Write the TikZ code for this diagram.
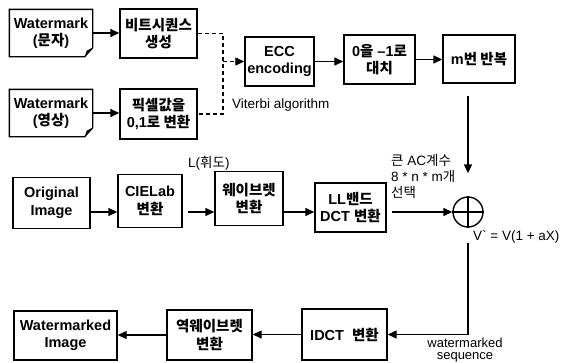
\documentclass[tikz,border=0pt]{standalone}
\usepackage{fontspec}
\setmainfont{Liberation Sans}
\newfontfamily\kr{Noto Sans CJK KR}
\newcommand{\kor}[1]{{\kr #1}}
\usetikzlibrary{arrows.meta}
\begin{document}
\begin{tikzpicture}[x=1pt,y=-1pt,
 box/.style={draw, line width=1.4pt, inner sep=0pt, align=center, font=\fontsize{14.5}{17.5}\selectfont\bfseries},
 lbl/.style={inner sep=0pt, font=\fontsize{13.5}{16}\selectfont},
 arr/.style={line width=1.4pt, -{Triangle[length=9pt,width=8pt]}},
 dsh/.style={line width=1.3pt, dash pattern=on 4pt off 3pt}]
\useasboundingbox (0,0) rectangle (573,362);
\fill[white] (0,0) rectangle (573,362);

% top row
\node[box, draw=none, minimum width=82pt, minimum height=46pt] (wm1) at (51,33) {Watermark\\(\kor{문자})};
\node[box, minimum width=77pt, minimum height=49pt] (bit) at (158.5,33.5) {\kor{비트시퀀스}\\\kor{생성}};
\node[box, draw=none, minimum width=82pt, minimum height=46pt] (wm2) at (51,113) {Watermark\\(\kor{영상})};
\node[box, minimum width=77pt, minimum height=50pt] (pix) at (158.5,114) {\kor{픽셀값을}\\0,1\kor{로 변환}};
\node[box, minimum width=69pt, minimum height=49pt] (ecc) at (279.5,61.5) {ECC\\encoding};
\node[lbl, anchor=base west] (vit) at (232,108) {Viterbi algorithm};
\node[box, minimum width=71pt, minimum height=49pt] (neg) at (379.5,59.5) {0\kor{을} –1\kor{로}\\\kor{대치}};
\node[box, minimum width=72pt, minimum height=48pt] (rep) at (479,59) {m\kor{번 반복}};

% document shapes
\foreach \n in {wm1,wm2}{
  \draw[line width=1.4pt] (\n.north west) -- (\n.north east) -- ([yshift=9pt]\n.south east)
     -- ([xshift=-8pt]\n.south east) -- (\n.south west) -- cycle;
  \fill ([yshift=9pt]\n.south east) -- ([xshift=-8pt]\n.south east) -- ([xshift=-6pt,yshift=6pt]\n.south east) -- cycle;
}

% middle row
\node[box, minimum width=77pt, minimum height=51pt] (orig) at (51.5,203) {Original\\Image};
\node[box, minimum width=64pt, minimum height=53pt] (cie) at (150,201) {CIELab\\\kor{변환}};
\node[box, minimum width=68pt, minimum height=54pt] (wav) at (249,198.5) {\kor{웨이브렛}\\\kor{변환}};
\node[box, minimum width=71pt, minimum height=49pt] (ll) at (350.5,207.5) {LL\kor{밴드}\\DCT \kor{변환}};
\node[draw, circle, line width=1.4pt, minimum size=30pt, inner sep=0pt] (op) at (468,212) {};
\draw[line width=1.4pt] (op.north) -- (op.south) (op.west) -- (op.east);

\node[lbl, anchor=base west] (lum) at (188,167) {L(\kor{휘도})};
\node[lbl, anchor=north west, align=left] (ac) at (391,154) {\kor{큰} AC\kor{계수}\\8 * n * m\kor{개}\\\kor{선택}};
\node[lbl, anchor=base west] (veq) at (473,240) {V\textasciigrave{} = V(1 + aX)};

% bottom row
\node[box, minimum width=103pt, minimum height=49pt] (wmi) at (65.5,335.5) {Watermarked\\Image};
\node[box, minimum width=85pt, minimum height=50pt] (inv) at (209.5,335) {\kor{역웨이브렛}\\\kor{변환}};
\node[box, minimum width=85pt, minimum height=51pt] (idct) at (344.5,334.5) {IDCT\ \ \kor{변환}};
\node[lbl, anchor=base, align=center, font=\fontsize{13}{12}\selectfont] (ws) at (465,359) {watermarked\\sequence};

% connectors
\coordinate (J) at (223,61.5);
\draw[arr] (wm1.east) -- (wm1.east -| bit.west);
\draw[arr] (wm2.east) -- (wm2.east -| pix.west);
\draw[dsh] (bit.east) -- (bit.east -| J) -- (pix.east -| J) -- (pix.east);
\draw[arr, dsh] (J) -- (ecc.west);
\draw[arr] (ecc.east) -- (ecc.east -| neg.west);
\draw[arr] (neg.east) -- (neg.east -| rep.west);
\draw[arr, shorten <=12pt, shorten >=23pt] (op |- rep.south) -- (op.north);
\draw[arr] (orig.east |- op) -- (cie.west |- op);
\draw[arr, shorten <=5pt] (cie.east |- op) -- (wav.west |- op);
\draw[arr] (wav.east |- op) -- (ll.west |- op);
\draw[arr, shorten <=5pt] (ll.east |- op) -- (op.west);
\draw[arr, shorten <=15pt] (op.south) |- (idct.east);
\draw[arr] (idct.west) -- (idct.west -| inv.east);
\draw[arr] (inv.west) -- (inv.west -| wmi.east);
\end{tikzpicture}
\end{document}
